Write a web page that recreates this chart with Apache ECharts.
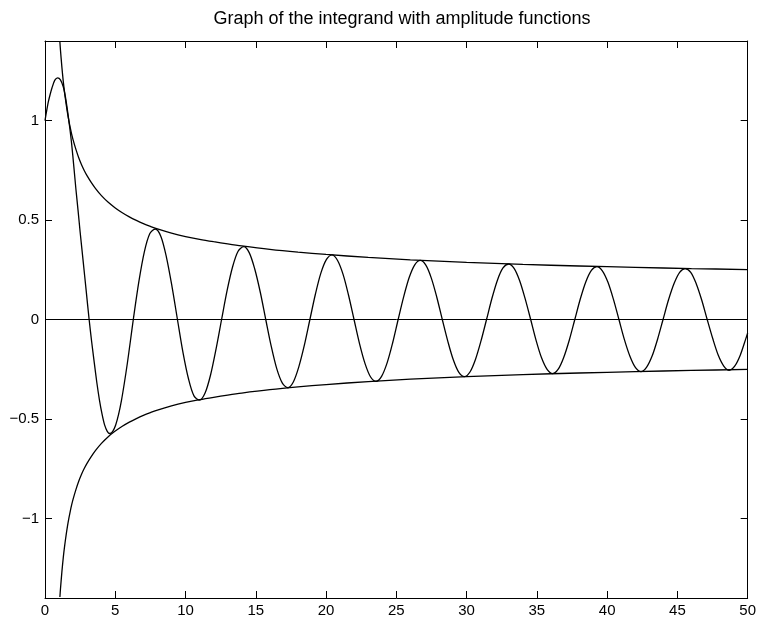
<!DOCTYPE html>
<html>
<head>
<meta charset="utf-8">
<script src="https://cdn.jsdelivr.net/npm/echarts@6/dist/echarts.min.js"></script>
<style>
html,body{margin:0;padding:0;background:#fff;}
#chart{width:759px;height:619px;}
</style>
</head>
<body>
<div id="chart"></div>
<script>
// ---- data ----
const titleText = 'Graph of the integrand with amplitude functions';
const xTicks = [0, 5, 10, 15, 20, 25, 30, 35, 40, 45, 50];
const yTicks = [-1, -0.5, 0, 0.5, 1];

const integrandX = [
  0, 0.12, 0.24, 0.36, 0.5, 0.7, 0.9, 1.1, 1.3, 1.45, 1.6, 1.75, 1.9, 2.05, 2.2, 2.35, 2.5, 2.72, 2.93, 3.14,
  3.32, 3.51, 3.69, 3.875, 4.06, 4.24, 4.43, 4.61, 4.82, 5.03, 5.24, 5.445, 5.65, 5.86, 6.07, 6.283,
  6.676, 7.069, 7.461, 7.854, 8.247, 8.639, 9.032, 9.425,
  9.817, 10.21, 10.60, 11.00, 11.39, 11.78, 12.17, 12.566,
  12.96, 13.35, 13.74, 14.14, 14.53, 14.92, 15.32, 15.708,
  16.10, 16.49, 16.89, 17.28, 17.67, 18.06, 18.46, 18.850,
  19.24, 19.63, 20.03, 20.42, 20.81, 21.21, 21.60, 21.99,
  22.38, 22.78, 23.17, 23.56, 23.95, 24.35, 24.74, 25.13,
  25.53, 25.92, 26.31, 26.70, 27.10, 27.49, 27.88, 28.27,
  28.67, 29.06, 29.45, 29.85, 30.24, 30.63, 31.02, 31.42,
  31.81, 32.20, 32.59, 32.99, 33.38, 33.77, 34.16, 34.56,
  34.95, 35.34, 35.74, 36.13, 36.52, 36.91, 37.31, 37.70,
  38.09, 38.48, 38.88, 39.27, 39.66, 40.06, 40.45, 40.84,
  41.23, 41.63, 42.02, 42.41, 42.80, 43.20, 43.59, 43.98,
  44.37, 44.77, 45.16, 45.55, 45.95, 46.34, 46.73, 47.12,
  47.52, 47.91, 48.30, 48.69, 49.09, 49.48, 49.87, 50];
const integrandY = [
  1.0, 1.05, 1.095, 1.13, 1.165, 1.203, 1.215, 1.205, 1.17, 1.12, 1.05, 0.97, 0.88, 0.77, 0.655, 0.55, 0.44, 0.29, 0.145, 0.0,
  -0.112, -0.219, -0.318, -0.405, -0.476, -0.53, -0.562, -0.573, -0.562, -0.53, -0.476, -0.405, -0.318, -0.22, -0.112, 0.0,
  0.189, 0.340, 0.432, 0.455, 0.417, 0.314, 0.168, 0.0,
  -0.165, -0.298, -0.384, -0.405, -0.370, -0.279, -0.149, 0.0,
  0.146, 0.265, 0.343, 0.366, 0.336, 0.255, 0.137, 0.0,
  -0.135, -0.247, -0.320, -0.343, -0.314, -0.238, -0.128, 0.0,
  0.127, 0.233, 0.302, 0.325, 0.298, 0.227, 0.122, 0.0,
  -0.121, -0.223, -0.289, -0.311, -0.286, -0.217, -0.117, 0.0,
  0.116, 0.212, 0.275, 0.297, 0.273, 0.208, 0.112, 0.0,
  -0.111, -0.204, -0.266, -0.287, -0.264, -0.201, -0.109, 0.0,
  0.108, 0.199, 0.259, 0.279, 0.257, 0.196, 0.106, 0.0,
  -0.106, -0.194, -0.252, -0.272, -0.250, -0.191, -0.103, 0.0,
  0.103, 0.189, 0.247, 0.266, 0.245, 0.187, 0.101, 0.0,
  -0.101, -0.186, -0.242, -0.262, -0.241, -0.184, -0.099, 0.0,
  0.099, 0.182, 0.237, 0.256, 0.237, 0.180, 0.098, 0.0,
  -0.097, -0.180, -0.234, -0.255, -0.233, -0.178, -0.096, -0.068];

const ampX = [1.06, 1.1, 1.2, 1.3, 1.4, 1.5, 1.6, 1.7, 1.8, 1.9, 2.0, 2.2, 2.4, 2.6, 2.8, 3.0, 3.3, 3.6, 4.0, 4.5,
  5.0, 5.5, 6.0, 6.5, 7.0, 7.5, 8.0, 9, 10, 11, 12, 13, 14, 16, 18, 20, 23, 26, 30, 34, 38, 42, 46, 50];
const upperAmp = [1.395, 1.355, 1.27, 1.197, 1.137, 1.085, 1.039, 0.999, 0.963, 0.931, 0.903, 0.855, 0.813, 0.778, 0.748, 0.722,
  0.688, 0.658, 0.624, 0.589, 0.561, 0.537, 0.516, 0.498, 0.482, 0.468, 0.455, 0.434, 0.417, 0.403, 0.391, 0.380,
  0.370, 0.353, 0.339, 0.327, 0.312, 0.300, 0.287, 0.277, 0.269, 0.262, 0.256, 0.251];
const lowerAmp = [-1.395, -1.355, -1.27, -1.197, -1.137, -1.085, -1.039, -0.999, -0.963, -0.931, -0.903, -0.855, -0.813, -0.778, -0.748, -0.722,
  -0.688, -0.658, -0.624, -0.589, -0.561, -0.537, -0.516, -0.498, -0.482, -0.468, -0.455, -0.434, -0.417, -0.403, -0.391, -0.380,
  -0.370, -0.353, -0.339, -0.327, -0.312, -0.300, -0.287, -0.277, -0.269, -0.262, -0.256, -0.251];

const zeroLineX = [0, 50];
const zeroLineY = [0, 0];

// ---- build ----
const pair = (xs, ys) => xs.map((x, i) => [x, ys[i]]);
const fontFam = '"Liberation Sans", Arial, Helvetica, sans-serif';
const fmt = v => (v < 0 ? '\u2212' + String(-v) : String(v));

const mkLine = (data, smooth, width) => ({
  type: 'line', data, smooth, showSymbol: false, symbol: 'none',
  lineStyle: { color: '#000', width }, animation: false, clip: true, silent: true
});

const axisLineStyle = { color: '#000', width: 1 };
const tickStyle = { inside: true, length: 7, lineStyle: { color: '#000', width: 1 } };

const chart = echarts.init(document.getElementById('chart'), null, { renderer: 'canvas' });
chart.setOption({
  animation: false,
  backgroundColor: '#fff',
  title: {
    text: titleText, left: 397, top: 5, textAlign: 'center',
    textStyle: { fontFamily: fontFam, fontSize: 18, fontWeight: 'normal', color: '#000' }
  },
  grid: { left: 45, right: 9, top: 41, bottom: 21, containLabel: false },
  xAxis: [{
    type: 'value', min: 0, max: 50, interval: 5, position: 'bottom',
    axisLine: { onZero: false, lineStyle: axisLineStyle },
    axisTick: tickStyle,
    axisLabel: { margin: 5, color: '#000', fontFamily: fontFam, fontSize: 15, formatter: fmt,
      customValues: xTicks },
    splitLine: { show: false }
  }, {
    type: 'value', min: 0, max: 50, interval: 5, position: 'top',
    axisLine: { onZero: false, lineStyle: axisLineStyle },
    axisTick: tickStyle,
    axisLabel: { show: false }, splitLine: { show: false }
  }],
  yAxis: [{
    type: 'value', min: -1.4, max: 1.4, position: 'left',
    axisLine: { onZero: false, lineStyle: axisLineStyle },
    axisTick: Object.assign({ customValues: yTicks }, tickStyle),
    axisLabel: { margin: 6, color: '#000', fontFamily: fontFam, fontSize: 15, formatter: fmt,
      customValues: yTicks },
    splitLine: { show: false }
  }, {
    type: 'value', min: -1.4, max: 1.4, position: 'right',
    axisLine: { onZero: false, lineStyle: axisLineStyle },
    axisTick: Object.assign({ customValues: yTicks }, tickStyle),
    axisLabel: { show: false }, splitLine: { show: false }
  }],
  series: [
    mkLine(pair(zeroLineX, zeroLineY), false, 1),
    mkLine(pair(ampX, upperAmp), 0.3, 1.3),
    mkLine(pair(ampX, lowerAmp), 0.3, 1.3),
    mkLine(pair(integrandX, integrandY), 0.3, 1.3)
  ]
});
</script>
</body>
</html>
